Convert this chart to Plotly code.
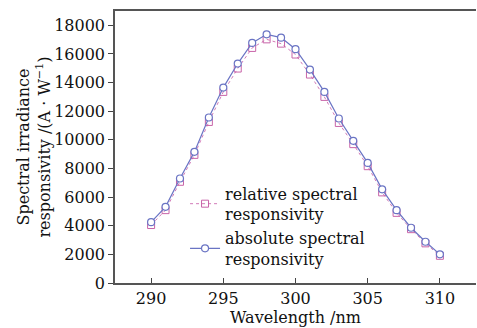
import plotly.graph_objects as go

wavelength = list(range(290, 311))
relative = [4050, 5090, 7070, 8950, 11250, 13350, 14980, 16420, 17020, 16720,
            15960, 14560, 13000, 11180, 9700, 8160, 6330, 4900, 3760, 2770, 1900]
absolute = [4250, 5320, 7300, 9160, 11560, 13650, 15330, 16770, 17370, 17140,
            16330, 14910, 13350, 11490, 9930, 8390, 6540, 5090, 3860, 2880, 2000]
y_ticks = list(range(0, 18001, 2000))
y_ticktext = [str(v) for v in y_ticks]
x_ticks = [290, 295, 300, 305, 310]

FONT = "DejaVu Serif"
fig = go.Figure()
fig.add_trace(go.Scatter(
    x=wavelength, y=relative, mode="lines+markers",
    name="relative spectral<br>responsivity",
    line=dict(color="#d27ab8", width=1, dash="dot"),
    marker=dict(symbol="square-open", size=7, color="#c864a8", line=dict(width=1))))
fig.add_trace(go.Scatter(
    x=wavelength, y=absolute, mode="lines+markers",
    name="absolute spectral<br>responsivity",
    line=dict(color="#6a74c4", width=1.2),
    marker=dict(symbol="circle", size=7, color="white",
                line=dict(color="#6a74c4", width=1.2))))

fig.update_layout(
    width=477, height=328,
    margin=dict(l=115, r=1, t=11, b=45),
    paper_bgcolor="white", plot_bgcolor="white",
    font=dict(family=FONT, size=16, color="#111"),
    showlegend=True,
    legend=dict(x=0.194, y=0.392, xanchor="left", yanchor="top",
                bgcolor="rgba(0,0,0,0)", font=dict(size=16),
                tracegroupgap=0, itemwidth=30),
    xaxis=dict(range=[287.5, 312.5], tickvals=x_ticks, ticks="inside", ticklen=5,
               showline=True, linecolor="#555", linewidth=1.5, mirror=True,
               showgrid=False, zeroline=False, automargin=False,
               tickfont=dict(size=16),
               title=dict(text="Wavelength /nm", standoff=0, font=dict(size=16))),
    yaxis=dict(range=[0, 19000], tickvals=y_ticks, ticktext=y_ticktext,
               ticks="outside", ticklen=5,
               showline=True, linecolor="#555", linewidth=1.5,
               showgrid=False, zeroline=False, automargin=False,
               tickfont=dict(size=16),
               title=dict(text="Spectral irradiance<br>responsivity /(A · W<sup>−1</sup>)",
                          standoff=0, font=dict(size=16))),
)
fig.write_html("out.html")
